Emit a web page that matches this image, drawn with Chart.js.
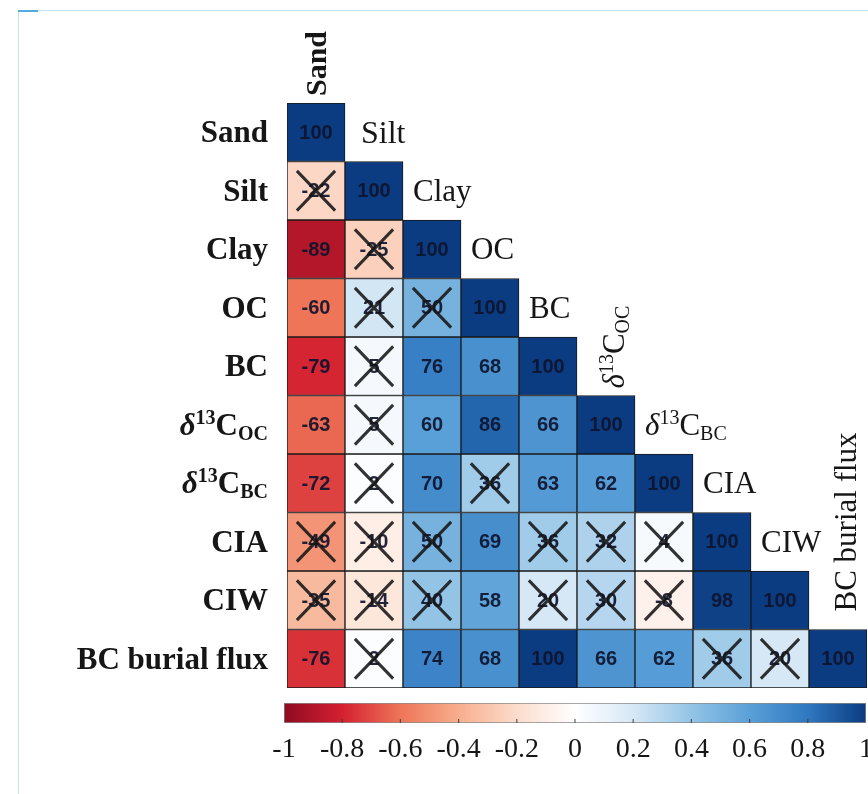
<!DOCTYPE html>
<html>
<head>
<meta charset="utf-8">
<script src="https://cdn.jsdelivr.net/npm/chart.js@4/dist/chart.umd.min.js"></script>
<style>
  html, body { margin: 0; padding: 0; background: #ffffff; }
  body { width: 868px; height: 794px; position: relative; overflow: hidden; }
  .frame { position: absolute; left: 18px; top: 10px; right: -2px; bottom: -2px;
           border-top: 1.5px solid #bfe3f6; border-left: 1.5px solid #bfe3f6; }
  .frame::before { content: ''; position: absolute; left: -1.5px; top: -1.5px;
           width: 20px; height: 2px; background: #55aae0; }
  #heat { position: absolute; left: 0; top: 0; }
  #scale { position: absolute; left: 250px; top: 695px; }
</style>
</head>
<body>
<div class="frame"></div>
<canvas id="heat" width="868" height="794"></canvas>
<canvas id="scale" width="650" height="99"></canvas>
<script>
// Variables of the correlation matrix ("^" = superscript, "_" = subscript)
const variables = ['Sand', 'Silt', 'Clay', 'OC', 'BC', 'δ^13C_OC', 'δ^13C_BC', 'CIA', 'CIW', 'BC burial flux'];

// Lower-triangle correlation coefficients (×100), one array per row
const rowSand  = [100];
const rowSilt  = [-22, 100];
const rowClay  = [-89, -25, 100];
const rowOC    = [-60, 21, 50, 100];
const rowBC    = [-79, 5, 76, 68, 100];
const rowD13OC = [-63, 5, 60, 86, 66, 100];
const rowD13BC = [-72, 2, 70, 36, 63, 62, 100];
const rowCIA   = [-49, -10, 50, 69, 36, 32, 4, 100];
const rowCIW   = [-35, -14, 40, 58, 20, 30, -8, 98, 100];
const rowFlux  = [-76, 2, 74, 68, 100, 66, 62, 36, 20, 100];
const rows = [rowSand, rowSilt, rowClay, rowOC, rowBC, rowD13OC, rowD13BC, rowCIA, rowCIW, rowFlux];

// Column indices of non-significant coefficients in each row (drawn crossed out)
const crossed = [[], [0], [1], [1, 2], [1], [1], [1, 3], [0, 1, 2, 4, 5, 6], [0, 1, 2, 4, 5, 6], [1, 7, 8]];

// Colour-bar ticks
const scaleMin = -1, scaleMax = 1, scaleStep = 0.2;

// Diverging red-blue palette, evenly spaced from -1 to 1
const palette = ['#8E0B22', '#D42030', '#EE7558', '#F7AE8E', '#FCDCCC', '#FFFFFF',
                 '#D6E8F5', '#93C4E6', '#5AA0D8', '#2F78C0', '#0B3B80'];

function hexToRgb(h) {
  return [parseInt(h.slice(1, 3), 16), parseInt(h.slice(3, 5), 16), parseInt(h.slice(5, 7), 16)];
}
function colourFor(v) {
  const t = Math.max(0, Math.min(1, (v + 1) / 2)) * (palette.length - 1);
  const i = Math.min(palette.length - 2, Math.floor(t));
  const f = t - i;
  const a = hexToRgb(palette[i]), b = hexToRgb(palette[i + 1]);
  const c = a.map((x, k) => Math.round(x + (b[k] - x) * f));
  return `rgb(${c[0]},${c[1]},${c[2]})`;
}

// Split a label into plain / superscript / subscript runs
function parseLabel(str) {
  const parts = [];
  const re = /\^(\d+)|_(\w+)/g;
  let last = 0, m;
  while ((m = re.exec(str)) !== null) {
    if (m.index > last) parts.push({ t: str.slice(last, m.index), k: 'n' });
    parts.push(m[1] ? { t: m[1], k: 'sup' } : { t: m[2], k: 'sub' });
    last = re.lastIndex;
  }
  if (last < str.length) parts.push({ t: str.slice(last), k: 'n' });
  return parts;
}
function runFont(p, size, bold) {
  const s = p.k === 'n' ? size : Math.round(size * 0.64);
  const style = p.t === 'δ' ? 'italic ' : '';
  return `${style}${bold ? 'bold ' : ''}${s}px "Liberation Serif", "Times New Roman", serif`;
}
function labelWidth(ctx, parts, size, bold) {
  let w = 0;
  parts.forEach(p => { ctx.font = runFont(p, size, bold); w += ctx.measureText(p.t).width; });
  return w;
}
// Draw a rich label starting at x (left edge) with its capitals centred on cy
function drawRuns(ctx, parts, x, cy, size, bold) {
  const base = cy + size * 0.33;
  ctx.textAlign = 'left';
  ctx.textBaseline = 'alphabetic';
  parts.forEach(p => {
    ctx.font = runFont(p, size, bold);
    let y = base;
    if (p.k === 'sup') y = base - size * 0.36;
    if (p.k === 'sub') y = base + size * 0.16;
    ctx.fillText(p.t, x, y);
    x += ctx.measureText(p.t).width;
  });
}

// One dataset per matrix row; each cell is a floating bar spanning [row, row + 1]
const datasets = rows.map((vals, r) => ({
  label: variables[r],
  data: variables.map((_, c) => (c <= r ? [r, r + 1] : null)),
  backgroundColor: variables.map((_, c) => (c <= r ? colourFor(vals[c] / 100) : 'rgba(0,0,0,0)')),
  borderColor: '#1a1a1a',
  borderWidth: 1,
  borderSkipped: false,
  barPercentage: 1,
  categoryPercentage: 1
}));

const rotatedLabels = [0, 5, 9];
const rowLabelSize = 31;
const diagLabelSize = 31;

const cellTextPlugin = {
  id: 'cellText',
  afterDatasetsDraw(chart) {
    const ctx = chart.ctx;
    ctx.save();
    chart.data.datasets.forEach((ds, r) => {
      const meta = chart.getDatasetMeta(r);
      meta.data.forEach((el, c) => {
        if (c > r) return;
        const cx = el.x, cy = (el.y + el.base) / 2;
        const w = el.width, h = Math.abs(el.base - el.y);
        ctx.font = 'bold 20px "Liberation Sans", Arial, sans-serif';
        ctx.textAlign = 'center';
        ctx.textBaseline = 'middle';
        ctx.fillStyle = 'rgba(14,20,44,0.92)';
        ctx.fillText(String(rows[r][c]), cx, cy + 1);
        if (crossed[r].includes(c)) {
          const ix = w * 0.17, iy = h * 0.16;
          ctx.strokeStyle = 'rgba(22,22,22,0.88)';
          ctx.lineWidth = 3;
          ctx.beginPath();
          ctx.moveTo(cx - w / 2 + ix, cy - h / 2 + iy);
          ctx.lineTo(cx + w / 2 - ix, cy + h / 2 - iy);
          ctx.moveTo(cx + w / 2 - ix, cy - h / 2 + iy);
          ctx.lineTo(cx - w / 2 + ix, cy + h / 2 - iy);
          ctx.stroke();
        }
      });
    });
    ctx.restore();
  },
  afterDraw(chart) {
    const ctx = chart.ctx;
    const xs = chart.scales.x, ys = chart.scales.y;
    const area = chart.chartArea;
    const cw = (area.right - area.left) / variables.length;
    ctx.save();
    ctx.fillStyle = '#161616';
    // Row labels, right-aligned left of the matrix
    variables.forEach((v, r) => {
      const parts = parseLabel(v);
      const cy = ys.getPixelForValue(r + 0.5);
      const w = labelWidth(ctx, parts, rowLabelSize, true);
      drawRuns(ctx, parts, area.left - 19 - w, cy, rowLabelSize, true);
    });
    // Column labels beside the diagonal
    variables.forEach((v, c) => {
      const parts = parseLabel(v);
      const colLeft = xs.getPixelForValue(c) - cw / 2;
      if (rotatedLabels.includes(c)) {
        const bold = c === 0;
        const cx = xs.getPixelForValue(c) + (c === 0 ? 0 : 8);
        const bottom = ys.getPixelForValue(c) - (c === 9 ? 18 : 7);
        ctx.save();
        ctx.translate(cx, bottom);
        ctx.rotate(-Math.PI / 2);
        drawRuns(ctx, parts, 0, 0, c === 0 ? 30 : diagLabelSize, bold);
        ctx.restore();
      } else {
        const cy = ys.getPixelForValue(c - 0.5);
        drawRuns(ctx, parts, colLeft + (c === 1 ? 16 : 10), cy, diagLabelSize + (c === 1 ? 1 : 0), false);
      }
    });
    ctx.restore();
  }
};

new Chart(document.getElementById('heat'), {
  type: 'bar',
  data: { labels: variables, datasets },
  options: {
    responsive: false,
    animation: false,
    devicePixelRatio: 1,
    layout: { padding: { left: 287, right: 1, top: 103, bottom: 106 } },
    plugins: { legend: { display: false }, tooltip: { enabled: false } },
    datasets: { bar: { grouped: false } },
    scales: {
      x: { display: false, offset: true },
      y: { display: false, min: 0, max: variables.length, reverse: true }
    }
  },
  plugins: [cellTextPlugin]
});

// Colour bar drawn as a single gradient bar on a linear axis
const tickMarks = {
  id: 'tickMarks',
  afterDatasetsDraw(chart) {
    const ctx = chart.ctx, xs = chart.scales.x, a = chart.chartArea;
    ctx.save();
    ctx.strokeStyle = 'rgba(60,60,60,0.8)';
    ctx.lineWidth = 1.2;
    xs.ticks.forEach((t, i) => {
      if (i === 0 || i === xs.ticks.length - 1) return;
      const x = xs.getPixelForTick(i);
      ctx.beginPath();
      ctx.moveTo(x, a.bottom);
      ctx.lineTo(x, a.bottom - 4);
      ctx.stroke();
    });
    ctx.restore();
  }
};

new Chart(document.getElementById('scale'), {
  type: 'bar',
  data: {
    labels: [''],
    datasets: [{
      data: [[scaleMin, scaleMax]],
      backgroundColor(ctx) {
        const a = ctx.chart.chartArea;
        if (!a) return '#ffffff';
        const g = ctx.chart.ctx.createLinearGradient(a.left, 0, a.right, 0);
        palette.forEach((c, i) => g.addColorStop(i / (palette.length - 1), c));
        return g;
      },
      borderColor: '#8a8a8a',
      borderWidth: 1,
      borderSkipped: false,
      barPercentage: 1,
      categoryPercentage: 1
    }]
  },
  options: {
    indexAxis: 'y',
    responsive: false,
    animation: false,
    devicePixelRatio: 1,
    layout: { padding: { left: 34, right: 34, top: 8, bottom: 0 } },
    plugins: { legend: { display: false }, tooltip: { enabled: false } },
    scales: {
      x: {
        min: scaleMin, max: scaleMax,
        afterFit(s) { s.height = 71; },
        border: { display: false },
        grid: { display: false, drawTicks: false },
        ticks: {
          stepSize: scaleStep,
          padding: 10,
          color: '#161616',
          font: { family: '"Liberation Serif", "Times New Roman", serif', size: 28 },
          callback: v => String(Math.round(v * 10) / 10)
        }
      },
      y: { display: false }
    }
  },
  plugins: [tickMarks]
});
</script>
</body>
</html>
